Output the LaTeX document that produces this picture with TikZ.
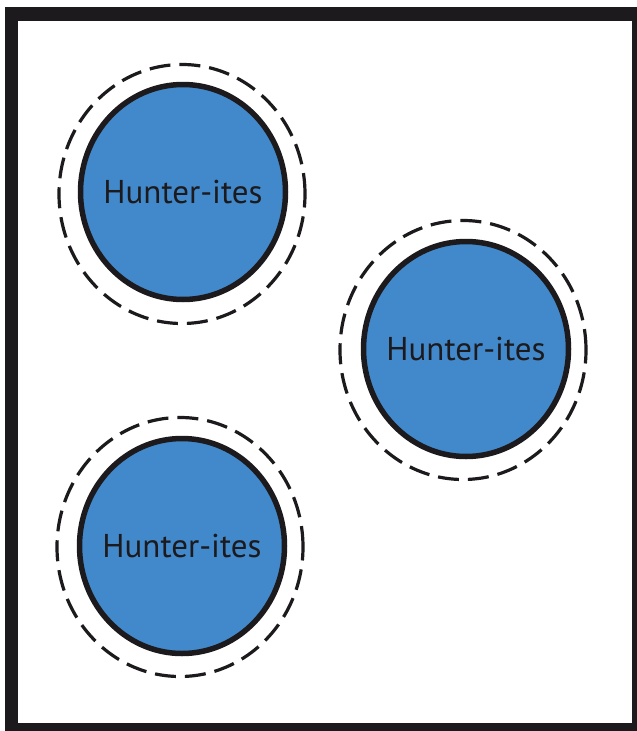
\documentclass[tikz,border=0pt]{standalone}
\usepackage{fontspec}
\setmainfont{PT Sans}
\usetikzlibrary{shapes.geometric}
\definecolor{hblue}{RGB}{66,137,204}
\definecolor{ink}{RGB}{28,26,28}
\begin{document}
\begin{tikzpicture}[x=1pt,y=-1pt,
  hunter/.style={ellipse, draw=ink, line width=5.5pt, fill=hblue, inner sep=0pt,
    minimum width=205pt, minimum height=215pt},
  hlabel/.style={text=ink, inner sep=0pt, font=\fontsize{33}{38}\selectfont},
  halo/.style={ellipse, draw=ink, line width=3.2pt, dash pattern=on 21pt off 9pt, inner sep=0pt,
    minimum width=246pt, minimum height=259pt}]
\useasboundingbox (0,0) rectangle (637,731);
\fill[white] (0,0) rectangle (637,731);
\fill[ink] (5,7) rectangle (637,731);
\fill[white] (18,21) rectangle (632,723);
\node[halo] (h1) at (182,194) {};
\node[hunter] (c1) at (183,192) {};
\node[hlabel] (t1) at (c1.center) {Hunter-ites};
\node[halo] (h2) at (463,350) {};
\node[hunter] (c2) at (466,349) {};
\node[hlabel] (t2) at (c2.center) {Hunter-ites};
\node[halo] (h3) at (180,547) {};
\node[hunter] (c3) at (182,546) {};
\node[hlabel] (t3) at (c3.center) {Hunter-ites};
\end{tikzpicture}
\end{document}
